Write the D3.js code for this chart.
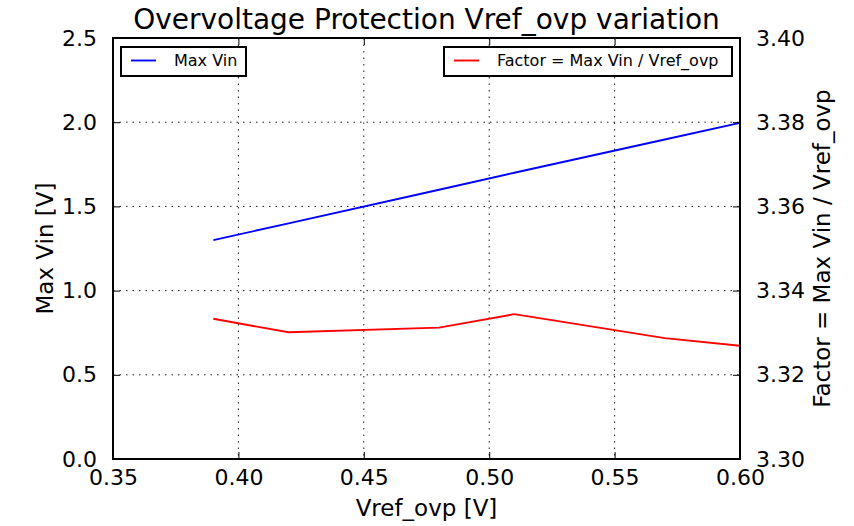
<!DOCTYPE html>
<html>
<head>
<meta charset="utf-8">
<script src="https://cdn.jsdelivr.net/npm/d3@7"></script>
<style>
  html, body { margin: 0; padding: 0; background: #fff; }
  svg { display: block; font-family: "DejaVu Sans", sans-serif; }
</style>
</head>
<body>
<svg id="chart" width="854" height="526"></svg>
<script>
// Reference voltage sweep and measured results
const vrefOvp = [0.39, 0.42, 0.48, 0.51, 0.57, 0.60];
const maxVin  = [1.300, 1.399, 1.599, 1.700, 1.897, 1.996];
const factor  = [3.3333, 3.3301, 3.3312, 3.3344, 3.3287, 3.3269];

const xTicks      = [0.35, 0.40, 0.45, 0.50, 0.55, 0.60];
const yLeftTicks  = [0.0, 0.5, 1.0, 1.5, 2.0, 2.5];
const yRightTicks = [3.30, 3.32, 3.34, 3.36, 3.38, 3.40];

const margin = { left: 113, right: 114, top: 38, bottom: 67 };
const W = 854, H = 526;
const svg = d3.select("#chart");

const x = d3.scaleLinear().domain([0.35, 0.60]).range([margin.left, W - margin.right]);
const yL = d3.scaleLinear().domain([0, 2.5]).range([H - margin.bottom, margin.top]);
const yR = d3.scaleLinear().domain([3.30, 3.40]).range([H - margin.bottom, margin.top]);

const x0 = margin.left, x1 = W - margin.right, yTop = margin.top, yBot = H - margin.bottom;
const tickLen = 7;
const tickFont = 22;

// dotted grid
const grid = svg.append("g").attr("stroke", "#000").attr("stroke-width", 0.9)
  .attr("stroke-dasharray", "1.5,5");
xTicks.slice(1, -1).forEach(t => {
  grid.append("line").attr("x1", x(t)).attr("x2", x(t)).attr("y1", yTop).attr("y2", yBot);
});
yLeftTicks.slice(1, -1).forEach(t => {
  grid.append("line").attr("x1", x0).attr("x2", x1).attr("y1", yL(t)).attr("y2", yL(t));
});

// series
const lineBlue = d3.line().x((d, i) => x(vrefOvp[i])).y(d => yL(d));
const lineRed = d3.line().x((d, i) => x(vrefOvp[i])).y(d => yR(d));
svg.append("path").datum(maxVin).attr("d", lineBlue)
  .attr("fill", "none").attr("stroke", "#0000ff").attr("stroke-width", 1.9);
svg.append("path").datum(factor).attr("d", lineRed)
  .attr("fill", "none").attr("stroke", "#ff0000").attr("stroke-width", 1.9);

// axes built with d3 axis generators; ticks point inward
function styleAxis(g) {
  g.select(".domain").remove();
  g.selectAll(".tick line").attr("stroke", "#000").attr("stroke-width", 1);
  g.selectAll(".tick text").attr("fill", "#000").attr("font-size", tickFont)
    .attr("font-family", "DejaVu Sans");
}
const fmt2 = d3.format(".2f"), fmt1 = d3.format(".1f");

svg.append("g").attr("transform", `translate(0,${yBot})`)
  .call(d3.axisBottom(x).tickValues(xTicks).tickFormat(fmt2).tickSizeInner(-tickLen).tickPadding(tickLen + 3).tickSizeOuter(0))
  .call(styleAxis);
svg.append("g").attr("transform", `translate(0,${yTop})`)
  .call(d3.axisTop(x).tickValues(xTicks).tickFormat("").tickSizeInner(-tickLen).tickSizeOuter(0))
  .call(styleAxis);
svg.append("g").attr("transform", `translate(${x0},0)`)
  .call(d3.axisLeft(yL).tickValues(yLeftTicks).tickFormat(fmt1).tickSizeInner(-tickLen).tickPadding(tickLen + 9).tickSizeOuter(0))
  .call(styleAxis);
svg.append("g").attr("transform", `translate(${x1},0)`)
  .call(d3.axisRight(yR).tickValues(yRightTicks).tickFormat(fmt2).tickSizeInner(-tickLen).tickPadding(tickLen + 9).tickSizeOuter(0))
  .call(styleAxis);

// frame
svg.append("rect").attr("x", x0).attr("y", yTop).attr("width", x1 - x0).attr("height", yBot - yTop)
  .attr("fill", "none").attr("stroke", "#000").attr("stroke-width", 2);

// titles
svg.append("text").attr("x", (x0 + x1) / 2).attr("y", 29).attr("text-anchor", "middle")
  .attr("font-size", 28).text("Overvoltage Protection Vref_ovp variation");
svg.append("text").attr("x", (x0 + x1) / 2).attr("y", 516).attr("text-anchor", "middle")
  .attr("font-size", 23).text("Vref_ovp [V]");
svg.append("text").attr("transform", `translate(53,${(yTop + yBot) / 2}) rotate(-90)`)
  .attr("text-anchor", "middle").attr("font-size", 23).text("Max Vin [V]");
svg.append("text").attr("transform", `translate(830,${(yTop + yBot) / 2}) rotate(-90)`)
  .attr("text-anchor", "middle").attr("font-size", 23).text("Factor = Max Vin / Vref_ovp");

// legends
function legend(xLeft, xRight, color, label) {
  const g = svg.append("g");
  g.append("rect").attr("x", xLeft).attr("y", 47).attr("width", xRight - xLeft).attr("height", 29)
    .attr("fill", "#fff").attr("stroke", "#000").attr("stroke-width", 2);
  g.append("line").attr("x1", xLeft + 10).attr("x2", xLeft + 35).attr("y1", 60.5).attr("y2", 60.5)
    .attr("stroke", color).attr("stroke-width", 1.9);
  g.append("text").attr("x", xLeft + 53).attr("y", 66).attr("font-size", 16).text(label);
}
legend(121, 246, "#0000ff", "Max Vin");
legend(444, 732, "#ff0000", "Factor = Max Vin / Vref_ovp");
</script>
</body>
</html>
